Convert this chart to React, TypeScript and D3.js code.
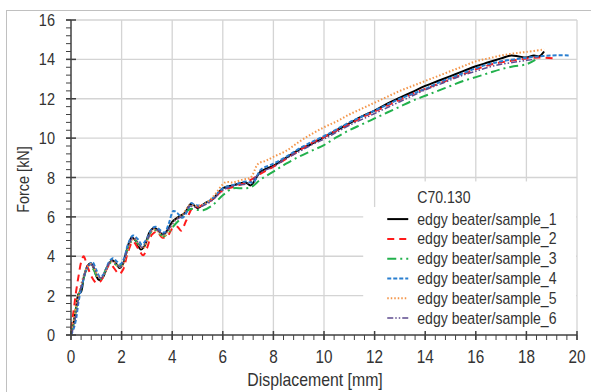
import React, { useEffect, useRef } from 'react';
import * as d3 from 'd3';

// x = displacement [mm], y = force [kN]
const sample1: [number, number][] = [
  [0, 0], [0.1, 0.6], [0.2, 1.4], [0.3, 2.1], [0.4, 2.2], [0.5, 2.9], [0.65, 3.5], [0.78, 3.65],
  [0.9, 3.4], [1.0, 3.0], [1.1, 2.8], [1.25, 2.9], [1.45, 3.5], [1.63, 3.8], [1.8, 3.6], [1.92, 3.4],
  [2.05, 3.6], [2.2, 4.3], [2.4, 4.95], [2.55, 4.8], [2.75, 4.35], [2.9, 4.5], [3.1, 5.2], [3.28, 5.45],
  [3.45, 5.3], [3.62, 5.1], [3.8, 5.3], [4.0, 5.75], [4.25, 6.0], [4.5, 6.2], [4.72, 6.65], [4.85, 6.6],
  [5.0, 6.45], [5.3, 6.7], [5.6, 6.9], [6.0, 7.45], [6.4, 7.6], [6.9, 7.75], [7.1, 7.6], [7.5, 8.3],
  [8.0, 8.6], [8.5, 9.0], [9.0, 9.4], [9.5, 9.7], [10.0, 10.05], [10.5, 10.4], [11.0, 10.75],
  [11.5, 11.1], [12.0, 11.4], [12.5, 11.75], [13.0, 12.05], [13.5, 12.35], [14.0, 12.65],
  [14.5, 12.9], [15.0, 13.15], [15.5, 13.4], [16.0, 13.65], [16.5, 13.85], [17.0, 14.05],
  [17.4, 14.2], [17.7, 14.15], [18.0, 14.1], [18.3, 14.2], [18.5, 14.15], [18.7, 14.4],
];

const sample2: [number, number][] = [
  [0, 0.3], [0.1, 1.2], [0.2, 2.2], [0.3, 3.0], [0.4, 3.7], [0.5, 4.0], [0.62, 3.6], [0.8, 3.0],
  [1.0, 2.65], [1.15, 2.7], [1.35, 3.2], [1.55, 3.6], [1.7, 3.4], [1.9, 3.1], [2.05, 3.3], [2.25, 4.2],
  [2.45, 4.75], [2.65, 4.4], [2.85, 4.05], [3.0, 4.4], [3.2, 5.1], [3.4, 5.25], [3.6, 4.95], [3.8, 5.0],
  [4.0, 5.4], [4.2, 5.5], [4.35, 5.3], [4.55, 5.8], [4.8, 6.45], [5.0, 6.5], [5.3, 6.65], [5.6, 6.9],
  [6.0, 7.35], [6.5, 7.55], [7.0, 7.8], [7.5, 8.2], [8.0, 8.55], [8.5, 8.95], [9.0, 9.35], [9.5, 9.75],
  [10.0, 10.05], [10.5, 10.4], [11.0, 10.7], [11.5, 11.05], [12.0, 11.35], [12.5, 11.65],
  [13.0, 11.95], [13.5, 12.25], [14.0, 12.5], [14.5, 12.75], [15.0, 13.0], [15.5, 13.25],
  [16.0, 13.5], [16.5, 13.7], [17.0, 13.85], [17.5, 13.95], [18.0, 14.05], [18.5, 14.1], [19.1, 14.05],
];

const sample3: [number, number][] = [
  [0, 0.1], [0.1, 0.5], [0.2, 1.3], [0.3, 2.0], [0.45, 2.6], [0.6, 3.3], [0.75, 3.55], [0.9, 3.3],
  [1.05, 2.9], [1.2, 2.85], [1.4, 3.4], [1.6, 3.7], [1.8, 3.55], [1.95, 3.5], [2.1, 3.8], [2.3, 4.6],
  [2.5, 4.85], [2.7, 4.55], [2.85, 4.5], [3.0, 4.8], [3.25, 5.35], [3.45, 5.2], [3.65, 5.0], [3.85, 5.2],
  [4.1, 5.6], [4.4, 6.0], [4.7, 6.4], [5.0, 6.35], [5.25, 6.35], [5.6, 6.6], [6.0, 7.1], [6.4, 7.45],
  [6.8, 7.45], [7.1, 7.5], [7.5, 7.9], [8.0, 8.3], [8.5, 8.7], [9.0, 9.05], [9.5, 9.35], [10.0, 9.65],
  [10.5, 10.05], [11.0, 10.4], [11.5, 10.7], [12.0, 11.0], [12.5, 11.3], [13.0, 11.6], [13.5, 11.9],
  [14.0, 12.15], [14.5, 12.4], [15.0, 12.65], [15.5, 12.9], [16.0, 13.1], [16.5, 13.3], [17.0, 13.5],
  [17.5, 13.65], [18.0, 13.75], [18.35, 13.97],
];

const sample4: [number, number][] = [
  [0, 0], [0.1, 0.3], [0.2, 0.8], [0.3, 1.7], [0.45, 2.6], [0.6, 3.3], [0.75, 3.6], [0.85, 3.7],
  [1.0, 3.3], [1.15, 2.95], [1.3, 3.1], [1.5, 3.7], [1.65, 3.9], [1.8, 3.75], [1.95, 3.6], [2.1, 3.9],
  [2.25, 4.6], [2.45, 5.05], [2.65, 4.85], [2.8, 4.6], [3.0, 4.9], [3.2, 5.4], [3.35, 5.5], [3.5, 5.35],
  [3.7, 5.2], [3.85, 5.6], [4.05, 6.3], [4.2, 6.2], [4.4, 5.95], [4.6, 6.3], [4.75, 6.7], [4.9, 6.6],
  [5.2, 6.6], [5.6, 6.95], [6.0, 7.45], [6.5, 7.65], [6.9, 7.8], [7.2, 7.75], [7.5, 8.4], [8.0, 8.7],
  [8.5, 9.05], [9.0, 9.45], [9.5, 9.8], [10.0, 10.1], [10.5, 10.45], [11.0, 10.8], [11.5, 11.1],
  [12.0, 11.4], [12.5, 11.7], [13.0, 12.0], [13.5, 12.25], [14.0, 12.5], [14.5, 12.8], [15.0, 13.05],
  [15.5, 13.3], [16.0, 13.55], [16.5, 13.75], [17.0, 13.9], [17.5, 14.0], [18.0, 14.08], [18.5, 14.15],
  [19.0, 14.2], [19.75, 14.2],
];

const sample5: [number, number][] = [
  [0, 0.2], [0.1, 0.7], [0.2, 1.5], [0.35, 2.3], [0.5, 3.0], [0.65, 3.45], [0.8, 3.6], [0.95, 3.3],
  [1.1, 2.9], [1.25, 2.95], [1.45, 3.5], [1.65, 3.75], [1.85, 3.5], [2.0, 3.45], [2.15, 3.9], [2.35, 4.7],
  [2.5, 4.9], [2.7, 4.55], [2.85, 4.4], [3.05, 4.9], [3.25, 5.35], [3.45, 5.25], [3.65, 5.0], [3.85, 5.25],
  [4.1, 5.8], [4.4, 6.1], [4.7, 6.6], [4.9, 6.55], [5.2, 6.6], [5.6, 7.0], [6.1, 7.75], [6.4, 7.75],
  [6.8, 7.9], [7.1, 8.0], [7.4, 8.7], [7.7, 8.85], [8.0, 9.05], [8.5, 9.35], [9.0, 9.8], [9.5, 10.2],
  [10.0, 10.55], [10.5, 10.85], [11.0, 11.2], [11.5, 11.5], [12.0, 11.8], [12.5, 12.1], [13.0, 12.4],
  [13.5, 12.65], [14.0, 12.9], [14.5, 13.15], [15.0, 13.4], [15.5, 13.65], [16.0, 13.9], [16.5, 14.05],
  [17.0, 14.2], [17.5, 14.3], [18.0, 14.38], [18.7, 14.5],
];

const sample6: [number, number][] = [
  [0, 0], [0.1, 0.4], [0.2, 1.1], [0.3, 1.9], [0.45, 2.7], [0.6, 3.3], [0.75, 3.6], [0.9, 3.45],
  [1.05, 3.0], [1.2, 2.9], [1.4, 3.4], [1.6, 3.75], [1.8, 3.6], [1.95, 3.45], [2.1, 3.8], [2.3, 4.6],
  [2.45, 4.95], [2.65, 4.7], [2.8, 4.45], [3.0, 4.8], [3.25, 5.4], [3.45, 5.3], [3.65, 5.1], [3.85, 5.35],
  [4.1, 5.8], [4.4, 6.05], [4.7, 6.55], [4.9, 6.5], [5.2, 6.55], [5.6, 6.85], [6.0, 7.35], [6.5, 7.6],
  [7.0, 7.7], [7.5, 8.25], [8.0, 8.55], [8.5, 8.95], [9.0, 9.3], [9.5, 9.65], [10.0, 9.95], [10.5, 10.3],
  [11.0, 10.65], [11.5, 10.95], [12.0, 11.25], [12.5, 11.55], [13.0, 11.85], [13.5, 12.15],
  [14.0, 12.45], [14.5, 12.7], [15.0, 12.95], [15.5, 13.2], [16.0, 13.4], [16.5, 13.6], [17.0, 13.75],
  [17.5, 13.85], [18.0, 13.95], [18.3, 14.0],
];

const seriesNames = [
  'edgy beater/sample_1',
  'edgy beater/sample_2',
  'edgy beater/sample_3',
  'edgy beater/sample_4',
  'edgy beater/sample_5',
  'edgy beater/sample_6',
];
const seriesData = [sample1, sample2, sample3, sample4, sample5, sample6];
const xTicks = [0, 2, 4, 6, 8, 10, 12, 14, 16, 18, 20];
const yTicks = [0, 2, 4, 6, 8, 10, 12, 14, 16];
const legendTitle = 'C70.130';

const styles = [
  { color: '#000000', dash: null, width: 2 },
  { color: '#ff1a1a', dash: '7,5', width: 2 },
  { color: '#22b14c', dash: '9,4,2,4', width: 2 },
  { color: '#2a7fd0', dash: '4,2', width: 2 },
  { color: '#f4964a', dash: '1.5,2', width: 2 },
  { color: '#5e4b8f', dash: '6,2,1.5,2,1.5,2', width: 1.5 },
];

const FONT = '"Liberation Sans", Arial, sans-serif';
const TEXT_COLOR = '#333';

// the original uses a condensed face, so squeeze text horizontally
function addText(
  parent: d3.Selection<SVGGElement, unknown, null, undefined>,
  x: number,
  y: number,
  str: string,
  size: number,
  anchor: string,
  sx: number,
  rotate = 0,
) {
  parent.append('text')
    .attr('transform', `translate(${x},${y}) rotate(${rotate}) scale(${sx},1)`)
    .attr('text-anchor', anchor)
    .attr('font-family', FONT)
    .attr('font-size', size)
    .attr('fill', TEXT_COLOR)
    .text(str);
}

export default function App() {
  const svgRef = useRef<SVGSVGElement>(null);
  const width = 591;
  const height = 392;

  useEffect(() => {
    if (!svgRef.current) return;
    const svg = d3.select(svgRef.current);
    svg.selectAll('*').remove();

    const margin = { top: 20, right: 14, bottom: 57, left: 71 };
    const innerWidth = width - margin.left - margin.right;
    const innerHeight = height - margin.top - margin.bottom;

    // outer frame
    svg.append('rect')
      .attr('x', 6.5)
      .attr('y', 10.5)
      .attr('width', width)
      .attr('height', height)
      .attr('fill', 'white')
      .attr('stroke', '#c0c0c0');

    const g = svg.append('g').attr('transform', `translate(${margin.left},${margin.top})`);

    const xScale = d3.scaleLinear().domain([0, 20]).range([0, innerWidth]);
    const yScale = d3.scaleLinear().domain([0, 16]).range([innerHeight, 0]);

    // Grid
    g.append('g')
      .selectAll('line')
      .data(xTicks.filter(d => d > 0))
      .join('line')
      .attr('x1', d => xScale(d))
      .attr('x2', d => xScale(d))
      .attr('y1', 0)
      .attr('y2', innerHeight)
      .attr('stroke', '#d4d4d4')
      .attr('stroke-width', 1.3);

    g.append('g')
      .selectAll('line')
      .data(yTicks.filter(d => d > 0))
      .join('line')
      .attr('x1', 0)
      .attr('x2', innerWidth)
      .attr('y1', d => yScale(d))
      .attr('y2', d => yScale(d))
      .attr('stroke', '#d4d4d4')
      .attr('stroke-width', 1.3);

    // Curves
    const line = d3
      .line<[number, number]>()
      .x(d => xScale(d[0]))
      .y(d => yScale(d[1]))
      .curve(d3.curveCatmullRom.alpha(0.5));

    seriesData.forEach((data, i) => {
      const s = styles[i];
      g.append('path')
        .datum(data)
        .attr('fill', 'none')
        .attr('stroke', s.color)
        .attr('stroke-width', s.width)
        .attr('stroke-dasharray', s.dash)
        .attr('d', line);
    });

    // Legend background (stepped, as in the original)
    const lx = xScale(11.55);
    const ly = yScale(6.5);
    g.append('rect')
      .attr('x', lx)
      .attr('y', ly)
      .attr('width', innerWidth - lx - 1)
      .attr('height', innerHeight - ly)
      .attr('fill', 'white');
    g.append('rect')
      .attr('x', xScale(12.6))
      .attr('y', yScale(7.8))
      .attr('width', innerWidth - xScale(12.6) - 1)
      .attr('height', yScale(6.5) - yScale(7.8) + 1)
      .attr('fill', 'white');

    const legend = g.append('g').attr('transform', `translate(${xScale(12.5)},${yScale(6.7)})`);
    addText(legend, 30, 0, legendTitle, 16, 'start', 0.88);

    seriesNames.forEach((name, i) => {
      const cy = 16 + i * 19.8;
      const s = styles[i];
      legend.append('line')
        .attr('x1', 0)
        .attr('x2', 21)
        .attr('y1', cy)
        .attr('y2', cy)
        .attr('stroke', s.color)
        .attr('stroke-width', s.width)
        .attr('stroke-dasharray', s.dash);
      addText(legend, 30, cy + 5.5, name, 16, 'start', 0.88);
    });

    // Axes
    const axisColor = '#404040';
    const xAxis = g.append('g').attr('transform', `translate(0,${innerHeight})`);
    xAxis.append('line')
      .attr('x1', 0).attr('x2', innerWidth)
      .attr('stroke', axisColor).attr('stroke-width', 1.5);
    xAxis.selectAll('.minor')
      .data(d3.range(0, 51).map(i => i * 0.4))
      .join('line')
      .attr('x1', d => xScale(d)).attr('x2', d => xScale(d))
      .attr('y1', 0).attr('y2', 5)
      .attr('stroke', axisColor).attr('stroke-width', 1);
    xAxis.selectAll('.major')
      .data(xTicks)
      .join('line')
      .attr('x1', d => xScale(d)).attr('x2', d => xScale(d))
      .attr('y1', -4).attr('y2', 5)
      .attr('stroke', axisColor).attr('stroke-width', 1.5);
    xTicks.forEach(t => addText(xAxis, xScale(t), 28, String(t), 18, 'middle', 0.85));
    addText(g, innerWidth / 2 - 9, innerHeight + 51, 'Displacement [mm]', 18, 'middle', 0.88);

    const yAxis = g.append('g');
    yAxis.append('line')
      .attr('y1', 0).attr('y2', innerHeight)
      .attr('stroke', axisColor).attr('stroke-width', 1.5);
    yAxis.selectAll('.minor')
      .data(d3.range(0, 41).map(i => i * 0.4))
      .join('line')
      .attr('x1', -5).attr('x2', 0)
      .attr('y1', d => yScale(d)).attr('y2', d => yScale(d))
      .attr('stroke', axisColor).attr('stroke-width', 1);
    yAxis.selectAll('.major')
      .data(yTicks)
      .join('line')
      .attr('x1', -5).attr('x2', 5)
      .attr('y1', d => yScale(d)).attr('y2', d => yScale(d))
      .attr('stroke', axisColor).attr('stroke-width', 1.5);
    yTicks.forEach(t => addText(yAxis, -16, yScale(t) + 6, String(t), 16.5, 'end', 0.88));
    addText(g, -42, innerHeight / 2 + 2, 'Force [kN]', 17, 'middle', 0.85, -90);
  }, []);

  return (
    <div style={{ width, height, overflow: 'hidden' }}>
      <style>{'body { margin: 0; }'}</style>
      <svg ref={svgRef} width={width} height={height} style={{ display: 'block' }} />
    </div>
  );
}
